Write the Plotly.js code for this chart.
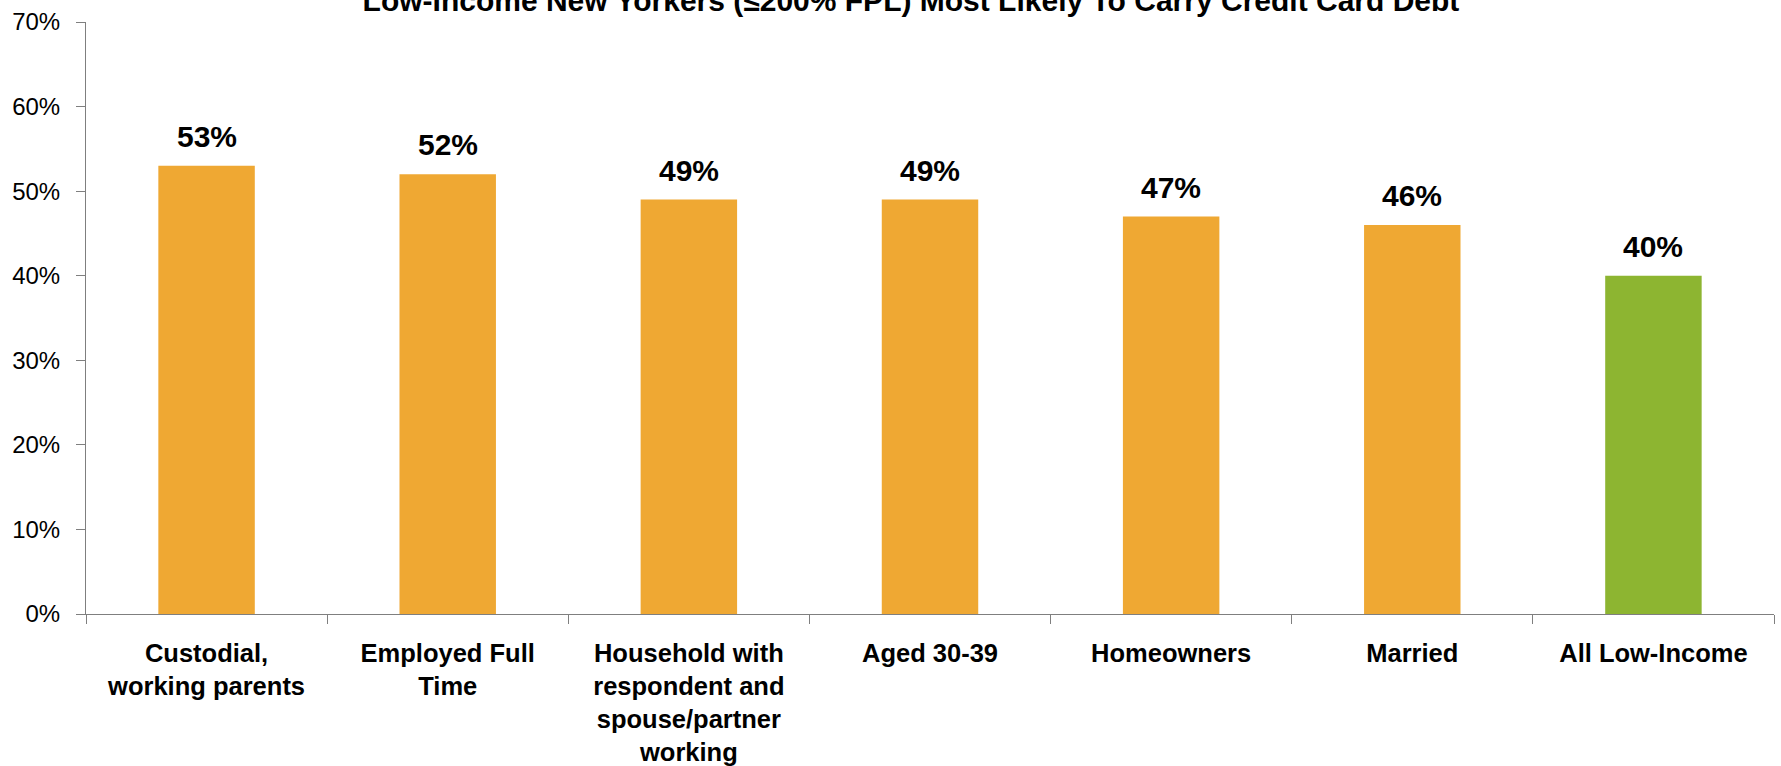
<!DOCTYPE html>
<html>
<head>
<meta charset="utf-8">
<script src="https://cdn.plot.ly/plotly-3.0.1.min.js"></script>
<style>html,body{margin:0;padding:0;background:#fff;}#chart{width:1781px;height:766px;}</style>
</head>
<body>
<div id="chart"></div>
<script>
const categories = ["Custodial, working parents", "Employed Full Time", "Household with respondent and spouse/partner working", "Aged 30-39", "Homeowners", "Married", "All Low-Income"];
const tickLabels = ["Custodial,<br>working parents", "Employed Full<br>Time", "Household with<br>respondent and<br>spouse/partner<br>working", "Aged 30-39", "Homeowners", "Married", "All Low-Income"];
const values = [0.53, 0.52, 0.49, 0.49, 0.47, 0.46, 0.40];
const barColors = ["#EFA833", "#EFA833", "#EFA833", "#EFA833", "#EFA833", "#EFA833", "#8DB531"];
const titleText = "Low-Income New Yorkers (≤200% FPL) Most Likely To Carry Credit Card Debt";

const font = "Liberation Sans, Arial, sans-serif";

const trace = {
  type: "bar",
  x: categories,
  y: values,
  marker: {color: barColors, line: {width: 0}},
  hoverinfo: "skip"
};

const annotations = categories.map((c, i) => ({
  x: c, y: values[i], xref: "x", yref: "y",
  text: "<b>" + Math.round(values[i] * 100) + "%</b>",
  showarrow: false, yanchor: "bottom", yshift: 11,
  font: {family: font, size: 30, color: "#000"}
}));

const layout = {
  width: 1781, height: 766,
  margin: {l: 86, r: 7, t: 22, b: 152},
  paper_bgcolor: "#fff", plot_bgcolor: "#fff",
  bargap: 0.6,
  showlegend: false,
  title: {
    text: "<b>" + titleText + "</b>",
    font: {family: font, size: 30, color: "#000"},
    xref: "container", x: 0.5115, xanchor: "center",
    yref: "container", y: 1, yanchor: "middle"
  },
  xaxis: {
    type: "category",
    tickmode: "array", tickvals: categories, ticktext: tickLabels,
    tickson: "boundaries", ticks: "outside", ticklen: 9, tickcolor: "#7f7f7f", tickwidth: 1,
    showline: true, linecolor: "#7f7f7f", linewidth: 1,
    showgrid: false, zeroline: false,
    tickfont: {family: font, size: 25.5, color: "#000", weight: "bold"},
    ticklabelstandoff: 16,
    fixedrange: true
  },
  yaxis: {
    range: [0, 0.7], tickvals: [0, 0.1, 0.2, 0.3, 0.4, 0.5, 0.6, 0.7],
    tickformat: ".0%",
    ticks: "outside", ticklen: 9, tickcolor: "#7f7f7f", tickwidth: 1,
    showline: true, linecolor: "#7f7f7f", linewidth: 1,
    showgrid: false, zeroline: false,
    tickfont: {family: font, size: 24, color: "#000"},
    ticklabelstandoff: 11,
    fixedrange: true
  },
  annotations: annotations
};

Plotly.newPlot("chart", [trace], layout, {displayModeBar: false, staticPlot: true});
</script>
</body>
</html>
